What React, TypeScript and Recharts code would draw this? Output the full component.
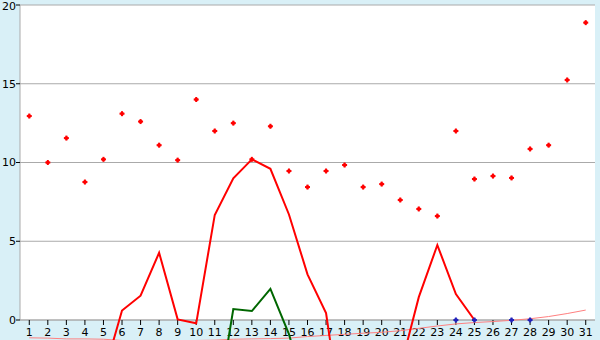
import { ComposedChart, Line, XAxis, YAxis, CartesianGrid, ReferenceArea } from 'recharts'

const days = [
  '1', '2', '3', '4', '5', '6', '7', '8', '9', '10', '11', '12', '13', '14', '15', '16',
  '17', '18', '19', '20', '21', '22', '23', '24', '25', '26', '27', '28', '29', '30', '31',
]

// red markers
const pointValues = [
  12.95, 10.0, 11.55, 8.76, 10.2, 13.1, 12.6, 11.1, 10.15, 14.0, 12.0, 12.5, 10.2, 12.3, 9.46, 8.44,
  9.46, 9.84, 8.44, 8.63, 7.62, 7.05, 6.6, 12.0, 8.95, 9.14, 9.02, 10.86, 11.1, 15.24, 18.88,
]

// thick red line
const redValues = [
  null, null, null, null, -3.5, 0.6, 1.54, 4.27, 0.04, -0.21, 6.67, 9.0, 10.2, 9.6, 6.7, 2.9,
  0.44, -7.5, -8, -6, -3.1, 1.45, 4.76, 1.65, 0.0, null, null, null, null, null, null,
]

// green line
const greenValues = [
  null, null, null, null, null, null, null, null, null, null, -6.5, 0.7, 0.57, 1.97, -0.9, -5,
  null, null, null, null, null, null, null, null, null, null, null, null, null, null, null,
]

// thin pink line
const pinkValues = [
  -1.13, -1.15, -1.2, -1.2, -1.22, -1.3, -1.35, -1.35, -1.35, -1.3, -1.28, -1.22, -1.2, -1.18, -1.15, -1.05,
  -0.98, -0.91, -0.84, -0.78, -0.68, -0.53, -0.38, -0.25, -0.16, -0.1, -0.02, 0.08, 0.22, 0.41, 0.63,
]

// blue markers on the zero line
const blueValues = [
  null, null, null, null, null, null, null, null, null, null, null, null, null, null, null, null,
  null, null, null, null, null, null, null, 0, 0, null, 0, 0, null, null, null,
]

const yTicks = [0, 5, 10, 15, 20]

const data = days.map((day, i) => ({
  day,
  point: pointValues[i],
  red: redValues[i],
  green: greenValues[i],
  pink: pinkValues[i],
  blue: blueValues[i],
}))

const W = 600
const H = 340
const BG = '#d9f0f7'
const GRID = '#aaaaaa'
const FONT = { fontFamily: 'DejaVu Sans', fontSize: 11, fill: '#000' }

function Cross(props: any) {
  const { cx, cy, value, color } = props
  if (cx == null || cy == null || value == null) return null
  return (
    <g fill={color}>
      <rect x={cx - 2.5} y={cy - 1} width={5} height={2} />
      <rect x={cx - 1} y={cy - 2.5} width={2} height={5} />
      <rect x={cx - 1.5} y={cy - 1.5} width={3} height={3} />
    </g>
  )
}

export default function App() {
  return (
    <div style={{ position: 'absolute', left: 0, top: 0, width: W, height: H, background: BG }}>
      {/* base: background, grid and axes */}
      <ComposedChart
        width={W}
        height={H}
        data={data}
        margin={{ top: 5, right: 5, left: 0, bottom: 0 }}
        style={{ position: 'absolute', left: 0, top: 0 }}
      >
        <CartesianGrid vertical={false} stroke={GRID} fill="#ffffff" fillOpacity={1} />
        <ReferenceArea fill="none" stroke={GRID} strokeWidth={1} ifOverflow="visible" />
        <XAxis
          dataKey="day"
          scale="band"
          interval={0}
          height={20}
          tickSize={5}
          tickMargin={3}
          stroke={GRID}
          tick={FONT}
          tickLine={{ stroke: '#000' }}
        />
        <YAxis
          width={20}
          domain={[0, 20]}
          ticks={yTicks}
          tickSize={4}
          tickMargin={0}
          stroke={GRID}
          tick={FONT}
          tickLine={{ stroke: '#000' }}
          allowDataOverflow
        />
      </ComposedChart>

      {/* overlay: series, allowed to run down past the zero line */}
      <ComposedChart
        width={W}
        height={H}
        data={data}
        margin={{ top: 5, right: 5, left: 20, bottom: 0 }}
        style={{ position: 'absolute', left: 0, top: 0 }}
      >
        <XAxis dataKey="day" scale="band" hide />
        <YAxis hide domain={[-(20 * 20) / 315, 20]} allowDataOverflow />
        <Line
          dataKey="pink"
          stroke="#ff8080"
          strokeWidth={1}
          dot={false}
          activeDot={false}
          isAnimationActive={false}
        />
        <Line
          dataKey="red"
          stroke="#ff0000"
          strokeWidth={2}
          dot={false}
          activeDot={false}
          isAnimationActive={false}
        />
        <Line
          dataKey="green"
          stroke="#006600"
          strokeWidth={2}
          dot={false}
          activeDot={false}
          isAnimationActive={false}
        />
        <Line
          dataKey="point"
          stroke="none"
          dot={<Cross color="#ff0000" />}
          activeDot={false}
          isAnimationActive={false}
        />
        <Line
          dataKey="blue"
          stroke="none"
          dot={<Cross color="#2222bb" />}
          activeDot={false}
          isAnimationActive={false}
        />
      </ComposedChart>
    </div>
  )
}
